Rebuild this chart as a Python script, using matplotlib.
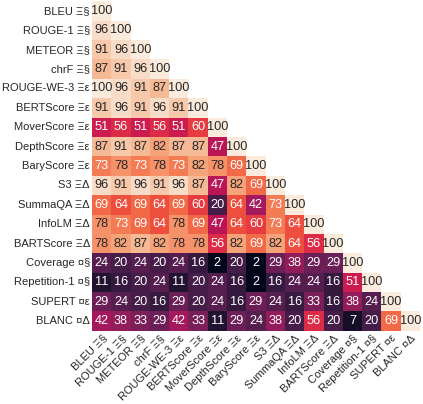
import numpy as np
import seaborn as sns
from matplotlib import pyplot as plt

sns.set_theme(style='white')
plt.rcParams['font.family'] = ['Liberation Sans', 'DejaVu Sans']

# metric names, as shown on both axes
labels = ['BLEU Ξ§', 'ROUGE-1 Ξ§', 'METEOR Ξ§', 'chrF Ξ§', 'ROUGE-WE-3 Ξε',
          'BERTScore Ξε', 'MoverScore Ξε', 'DepthScore Ξε', 'BaryScore Ξε',
          'S3 ΞΔ', 'SummaQA ΞΔ', 'InfoLM ΞΔ', 'BARTScore ΞΔ', 'Coverage ¤§',
          'Repetition-1 ¤§', 'SUPERT ¤ε', 'BLANC ¤Δ']

# lower triangle, row by row (diagonal included)
rows = [
    [100],
    [96, 100],
    [91, 96, 100],
    [87, 91, 96, 100],
    [100, 96, 91, 87, 100],
    [91, 96, 91, 96, 91, 100],
    [51, 56, 51, 56, 51, 60, 100],
    [87, 91, 87, 82, 87, 87, 47, 100],
    [73, 78, 73, 78, 73, 82, 78, 69, 100],
    [96, 91, 96, 91, 96, 87, 47, 82, 69, 100],
    [69, 64, 69, 64, 69, 60, 20, 64, 42, 73, 100],
    [78, 73, 69, 64, 78, 69, 47, 64, 60, 73, 64, 100],
    [78, 82, 87, 82, 78, 78, 56, 82, 69, 82, 64, 56, 100],
    [24, 20, 24, 20, 24, 16, 2, 20, 2, 29, 38, 29, 29, 100],
    [11, 16, 20, 24, 11, 20, 24, 16, 2, 16, 24, 24, 16, 51, 100],
    [29, 24, 20, 16, 29, 20, 24, 16, 29, 24, 16, 33, 16, 38, 24, 100],
    [42, 38, 33, 29, 42, 33, 11, 29, 24, 38, 20, 56, 20, 7, 20, 69, 100],
]

n = len(labels)
mat = np.zeros((n, n))
for i, r in enumerate(rows):
    mat[i, :len(r)] = r
mask = np.triu(np.ones((n, n), dtype=bool), k=1)

fig = plt.figure(figsize=(4.23, 4.04), dpi=100)
ax = fig.add_axes([0.2175, 0.181, 0.7754, 0.816])
sns.heatmap(mat, mask=mask, cmap='rocket', annot=True, fmt='.0f', cbar=False,
            annot_kws={'fontsize': 9.2}, xticklabels=labels, yticklabels=labels, ax=ax)
ax.set_xticklabels(labels, rotation=45, ha='right', rotation_mode='anchor', fontsize=8)
ax.set_yticklabels(labels, rotation=0, fontsize=8)
ax.tick_params(length=0, pad=1.5)

fig.savefig('out.png', dpi=100)
